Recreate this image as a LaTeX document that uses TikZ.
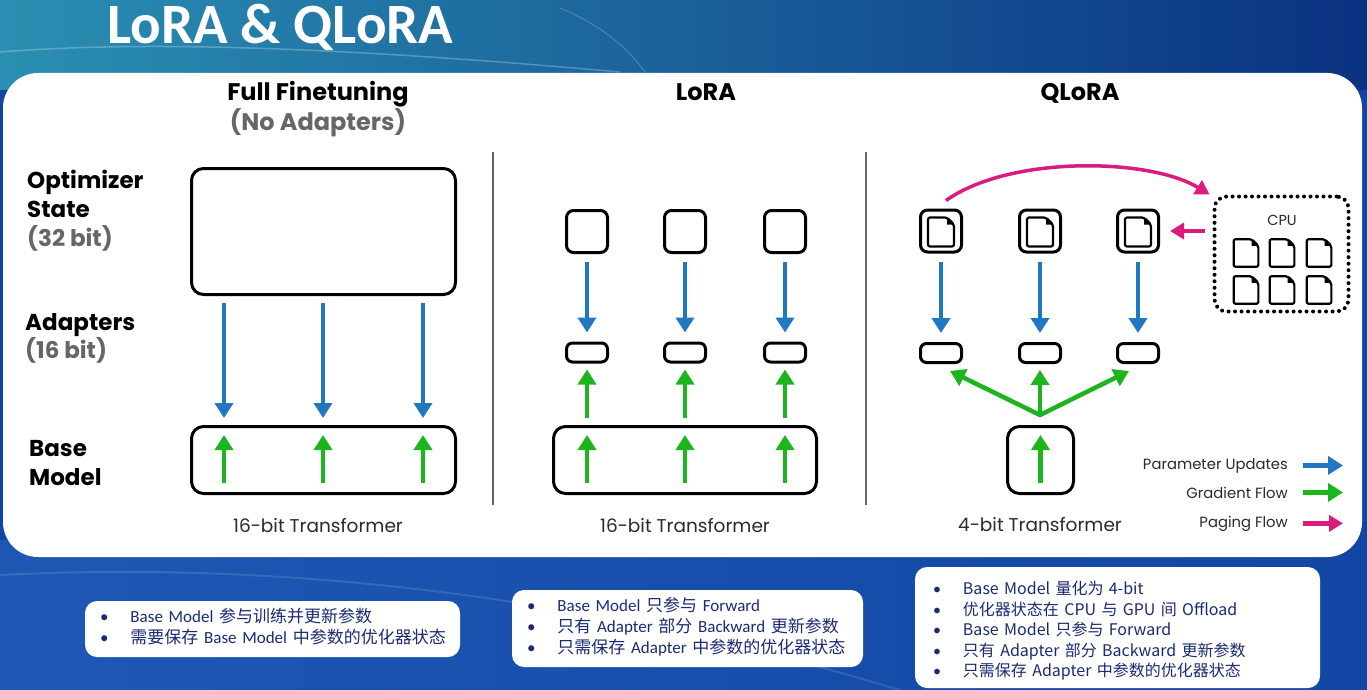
\documentclass[tikz,border=0pt]{standalone}
\usepackage{fontspec}
\setmainfont{Poppins}
\newfontfamily\cjk{Noto Sans CJK SC}
\newfontfamily\titlefont{Carlito}
\newfontfamily\notefont{Carlito}
\usetikzlibrary{arrows.meta,positioning}
\definecolor{bgblue}{HTML}{1246A4}
\definecolor{bglow}{HTML}{1E58B4}
\definecolor{bgteal}{HTML}{2A8FB2}
\definecolor{bgmid}{HTML}{17609E}
\definecolor{bgnavy}{HTML}{0A3282}
\definecolor{updblue}{HTML}{1F78C1}
\definecolor{gradgreen}{HTML}{1DB51D}
\definecolor{pagepink}{HTML}{DD1A7E}
\definecolor{subgray}{HTML}{666666}
\definecolor{capgray}{HTML}{2A2A2A}
\definecolor{notenavy}{HTML}{1B2B72}
\tikzstyle{bigbox} = [rectangle, draw, line width=3pt, rounded corners=12pt]
\tikzstyle{optbox} = [rectangle, draw, line width=3pt, rounded corners=7pt,
    minimum width=41pt, minimum height=42pt]
\tikzstyle{adbox} = [rectangle, draw, line width=3pt, rounded corners=6pt,
    minimum width=41pt, minimum height=19pt]
\tikzstyle{cpubox} = [rectangle, draw, line width=4pt, dash pattern=on 0pt off 6.5pt,
    line cap=round, rounded corners=12pt]
\tikzstyle{upd} = [-{Triangle[width=18pt,length=15pt]}, line width=4.5pt, color=updblue]
\tikzstyle{grad} = [-{Triangle[width=18pt,length=15pt]}, line width=4.5pt, color=gradgreen]
\tikzstyle{pagearr} = [-{Triangle[width=16pt,length=14pt]}, line width=3.5pt, color=pagepink]
\tikzstyle{hd} = [anchor=base, inner sep=0pt, font=\bfseries\fontsize{24}{28}\selectfont]
\tikzstyle{lbl} = [anchor=base west, inner sep=0pt, font=\bfseries\fontsize{23}{28}\selectfont]
\tikzstyle{captxt} = [anchor=base, inner sep=0pt, text=capgray, font=\fontsize{18.5}{22}\selectfont]
\tikzstyle{lgd} = [anchor=base east, inner sep=0pt, text=capgray, font=\fontsize{14.8}{17}\selectfont]
\tikzstyle{note} = [rectangle, fill=white, rounded corners=12pt, text=notenavy, align=left,
    inner xsep=15pt, inner ysep=0pt, font=\notefont\fontsize{17}{21}\selectfont]
\newcommand{\zh}[1]{{\cjk #1}}
\newcommand{\blt}{{\notefont\textbullet}}
\newcommand{\pagesym}[3]{%
  \begin{scope}[shift={(#1,#2)}, scale=#3]
    \draw[line width=2.2pt, rounded corners=2pt, line join=round]
      (-13,-14.5) -- (6,-14.5) -- (13,-7.5) -- (13,14.5) -- (-13,14.5) -- cycle;
    \fill (6,-14.5) -- (6,-7.5) -- (13,-7.5) -- cycle;
  \end{scope}}

\begin{document}
\begin{tikzpicture}[x=1pt,y=-1pt]
  \useasboundingbox (0,0) rectangle (1367,690);
  % background
  \fill[bgblue] (0,0) rectangle (1367,690);
  \shade[left color=bgteal, middle color=bgmid, right color=bgnavy] (0,0) rectangle (1367,90);
  \shade[left color=bglow, right color=bgblue] (0,540) rectangle (1367,690);
  \draw[white, opacity=0.25, line width=1.5pt] (0,52) .. controls (150,40) and (350,48) .. (620,72);
  \draw[white, opacity=0.2, line width=1pt] (560,8) .. controls (600,25) and (625,45) .. (645,72);
  \draw[white, opacity=0.12, line width=2pt] (0,575) .. controls (300,560) and (600,600) .. (900,690);
  \fill[white, rounded corners=35pt] (3,73) rectangle (1362,557);

  \node[anchor=base west, inner sep=0pt, text=white,
    font=\titlefont\bfseries\fontsize{57}{62}\selectfont] (ttl) at (107,44) {LoRA \& QLoRA};

  % column heads
  \node[hd] (fft) at (318,101) {Full Finetuning};
  \node[hd, text=subgray] (fna) at (318,131) {(No Adapters)};
  \node[hd] (lrt) at (706,101) {LoRA};
  \node[hd] (qlt) at (1080,101) {QLoRA};

  % row labels
  \node[lbl] (os1) at (27,188) {Optimizer};
  \node[lbl] (os2) at (27,217) {State};
  \node[lbl, text=subgray] (os3) at (27,246) {(32 bit)};
  \node[lbl] (ad1) at (25,330) {Adapters};
  \node[lbl, text=subgray] (ad2) at (25,358) {(16 bit)};
  \node[lbl] (bm1) at (29,456) {Base};
  \node[lbl] (bm2) at (29,485) {Model};

  \draw[subgray, line width=2pt] (493,152) -- (493,505);
  \draw[subgray, line width=2pt] (866,152) -- (866,505);

  % full finetuning
  \node[bigbox, minimum width=264, minimum height=126] (opt) at (323.5,231.5) {};
  \node[bigbox, minimum width=264, minimum height=67] (fbase) at (323.5,460) {};
  \foreach \i/\x in {1/224,2/323,3/423} {
    \coordinate (fc\i) at (\x,0);
    \draw[upd] ([yshift=-7pt]opt.south -| fc\i) -- ([yshift=7pt]fbase.north -| fc\i);
    \draw[grad] ([yshift=12pt]fbase.south -| fc\i) -- ([yshift=-10pt]fbase.north -| fc\i);
  }
  \node[captxt] (fcap) at (318,532) {16-bit Transformer};

  % lora
  \node[bigbox, minimum width=263, minimum height=67] (lbase) at (685,460) {};
  \foreach \i/\x in {1/587,2/685,3/785} {
    \node[optbox] (lt\i) at (\x,231.5) {};
    \node[adbox] (la\i) at (\x,352.5) {};
    \path[upd] (lt\i) edge[shorten <=8pt, shorten >=9pt] (la\i);
    \draw[grad] ([yshift=7pt]lbase.north -| la\i) -- ([yshift=-6pt]la\i.south);
    \draw[grad] ([yshift=12pt]lbase.south -| la\i) -- ([yshift=-10pt]lbase.north -| la\i);
  }
  \node[captxt] (lcap) at (685,532) {16-bit Transformer};

  % qlora
  \foreach \i/\x in {1/941,2/1040,3/1138} {
    \node[optbox] (qt\i) at (\x,231) {};
    \pagesym{\x}{232}{1}
    \node[adbox] (qa\i) at (\x,353) {};
    \path[upd] (qt\i) edge[shorten <=8pt, shorten >=9pt] (qa\i);
  }
  \node[bigbox, minimum width=66, minimum height=67] (qbase) at (1040.5,460) {};
  \coordinate (qv) at (1040,415);
  \draw[grad, line cap=round] (qv) -- ([shift={(9,7)}]qa1.south);
  \draw[grad, line cap=round] (qv) -- ([yshift=-6pt]qa2.south);
  \draw[grad, line cap=round] (qv) -- ([shift={(-9,7)}]qa3.south);
  \draw[grad] ([yshift=12pt]qbase.south) -- ([yshift=-10pt]qbase.north);
  \node[captxt] (qcap) at (1040,531) {4-bit Transformer};

  % cpu
  \node[cpubox, minimum width=134, minimum height=115] (cpu) at (1281.5,254) {};
  \node[anchor=base, inner sep=0pt, text=capgray, font=\fontsize{14.5}{16}\selectfont] (cpul) at (1282,225) {CPU};
  \foreach \x in {1246,1282,1319}
    \foreach \y in {253,290} {\pagesym{\x}{\y}{0.95}}
  \draw[pagearr] ([shift={(5,-8)}]qt1.north) .. controls (1010,155) and (1150,158) .. ([shift={(-3,0)}]cpu.north west);
  \draw[pagearr] ([xshift=-8pt]cpu.west |- qt3.east) -- ([xshift=10pt]qt3.east);

  % legend
  \node[lgd] (lg1) at (1288,469) {Parameter Updates};
  \node[lgd] (lg2) at (1288,498) {Gradient Flow};
  \node[lgd] (lg3) at (1288,527) {Paging Flow};
  \draw[upd, line width=5pt] ([xshift=15pt]lg1.east) -- ++(40,0);
  \draw[grad, line width=5pt] ([xshift=15pt]lg2.east) -- ++(40,0);
  \draw[pagearr, line width=5pt] ([xshift=15pt]lg3.east) -- ++(40,0);

  % notes
  \node[note, text width=345pt, minimum height=56pt] (n1) at (272.5,629) {%
    \begin{tabular}{@{}l@{\hspace{22pt}}l@{}}
    \blt & Base Model \zh{参与训练并更新参数}\\
    \blt & \zh{需要保存} Base Model \zh{中参数的优化器状态}
    \end{tabular}};
  \node[note, text width=321pt, minimum height=77pt] (n2) at (687.5,628.5) {%
    \begin{tabular}{@{}l@{\hspace{22pt}}l@{}}
    \blt & Base Model \zh{只参与} Forward\\
    \blt & \zh{只有} Adapter \zh{部分} Backward \zh{更新参数}\\
    \blt & \zh{只需保存} Adapter \zh{中参数的优化器状态}
    \end{tabular}};
  \node[note, text width=369pt, minimum height=121pt, inner xsep=18pt,
    font=\cjk\fontsize{16}{20.5}\selectfont] (n3) at (1117.5,627.5) {%
    \raisebox{-4pt}[\height][\depth]{%
    \begin{tabular}{@{}l@{\hspace{22pt}}l@{}}
    \blt & Base Model 量化为 4-bit\\
    \blt & 优化器状态在 CPU 与 GPU 间 Offload\\
    \blt & Base Model 只参与 Forward\\
    \blt & 只有 Adapter 部分 Backward 更新参数\\
    \blt & 只需保存 Adapter 中参数的优化器状态
    \end{tabular}}};
\end{tikzpicture}
\end{document}
